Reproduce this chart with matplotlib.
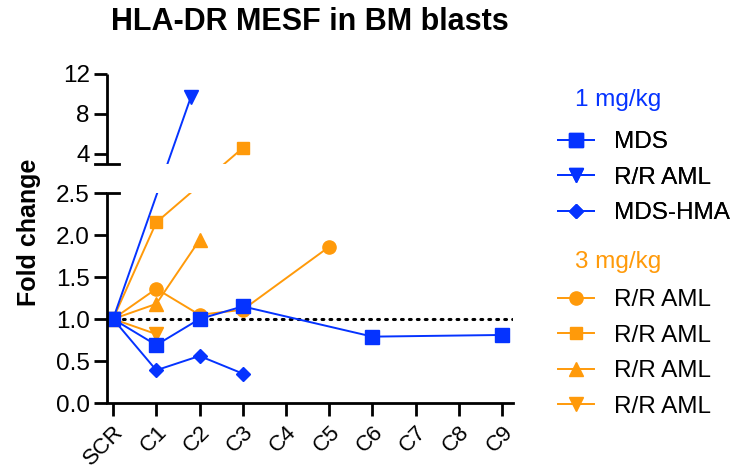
import matplotlib
matplotlib.use("Agg")
import matplotlib.pyplot as plt
import numpy as np

plt.rcParams['font.family'] = ['Liberation Sans', 'DejaVu Sans']

# categories on the x axis
cycles = ["SCR", "C1", "C2", "C3", "C4", "C5", "C6", "C7", "C8", "C9"]

# 1 mg/kg cohort
mds_x = [0, 1, 2, 3, 6, 9]
mds_y = [1.0, 0.69, 1.0, 1.15, 0.79, 0.81]
rr1_x = [0, 1.8]
rr1_y = [1.0, 9.7]
hma_x = [0, 1, 2, 3]
hma_y = [1.0, 0.39, 0.56, 0.35]

# 3 mg/kg cohort
rr_a_x = [0, 1, 2, 3, 5]
rr_a_y = [1.0, 1.36, 1.05, 1.11, 1.86]
rr_b_x = [0, 1, 3]
rr_b_y = [1.0, 2.15, 4.6]
rr_c_x = [0, 1, 2]
rr_c_y = [1.0, 1.18, 1.94]
rr_d_x = [0, 1]
rr_d_y = [1.0, 0.82]

BLUE = "#0533ff"
ORANGE = "#ff9a0a"

# broken y axis: 0-2.5 normal, 3-12 compressed above a gap
B, T = 2.5, 3.0
GAP = 29 / 84
TOPK = 10 / 84


def fwd(v):
    v = np.asarray(v, dtype=float)
    return np.where(v <= B, v,
                    np.where(v <= T, B + (v - B) / (T - B) * GAP,
                             B + GAP + (v - T) * TOPK))


def inv(d):
    d = np.asarray(d, dtype=float)
    return np.where(d <= B, d,
                    np.where(d <= B + GAP, B + (d - B) / GAP * (T - B),
                             T + (d - B - GAP) / TOPK))


fig = plt.figure(figsize=(7.43, 4.69), dpi=100)
ax = fig.add_axes([107 / 743, 66 / 469, 406 / 743, 329 / 469])
ax.set_yscale('function', functions=(fwd, inv))
ax.set_ylim(0, 12)
ax.set_xlim(-0.14, 9.25)

ax.axhline(1.0, color='black', lw=2.2, ls=(0, (0.6, 2.0)), dash_capstyle='round', zorder=1)

lw = 1.4
h_rr_a, = ax.plot(rr_a_x, rr_a_y, color=ORANGE, lw=lw, marker='o', ms=9.5, label='R/R AML', zorder=2)
h_rr_b, = ax.plot(rr_b_x, rr_b_y, color=ORANGE, lw=lw, marker='s', ms=9, label='R/R AML', zorder=2)
h_rr_c, = ax.plot(rr_c_x, rr_c_y, color=ORANGE, lw=lw, marker='^', ms=9.5, label='R/R AML', zorder=2)
h_rr_d, = ax.plot(rr_d_x, rr_d_y, color=ORANGE, lw=lw, marker='v', ms=9.5, label='R/R AML', zorder=2)
h_hma, = ax.plot(hma_x, hma_y, color=BLUE, lw=lw, marker='D', ms=7, label='MDS-HMA', zorder=2)
h_rr1, = ax.plot(rr1_x, rr1_y, color=BLUE, lw=lw, marker='v', ms=10, label='R/R AML', zorder=2)
h_mds, = ax.plot(mds_x, mds_y, color=BLUE, lw=lw, marker='s', ms=10, label='MDS', zorder=2.2)

# blank out the break
ax.axhspan(B, T, color='white', zorder=2.5, lw=0)

for s in ['top', 'right', 'left']:
    ax.spines[s].set_visible(False)
ax.spines['bottom'].set_linewidth(2)

yt = ax.get_yaxis_transform()
ax.plot([0, 0], [0, B], transform=yt, color='black', lw=2, clip_on=False, zorder=5, solid_capstyle='butt')
ax.plot([0, 0], [T, 12], transform=yt, color='black', lw=2, clip_on=False, zorder=5, solid_capstyle='butt')
ax.plot([-0.03, 0.03], [T, T], transform=yt, color='black', lw=2, clip_on=False, zorder=5)
ax.plot([0, 0.03], [B, B], transform=yt, color='black', lw=2, clip_on=False, zorder=5)

yticks = [0, 0.5, 1.0, 1.5, 2.0, 2.5, 4, 8, 12]
ylabels = ["0.0", "0.5", "1.0", "1.5", "2.0", "2.5", "4", "8", "12"]
ax.set_yticks(yticks, ylabels)
ax.minorticks_off()
ax.set_xticks(range(len(cycles)), cycles, rotation=45, ha='right', rotation_mode='anchor')
ax.tick_params(axis='both', length=9.5, width=2, pad=3)
ax.tick_params(axis='y', labelsize=17.5)
ax.tick_params(axis='x', labelsize=16, pad=4)

fig.text(310 / 743, 1 - 30 / 469, "HLA-DR MESF in BM blasts", ha='center', va='baseline',
         fontsize=22, fontweight='bold')
fig.text(29 / 743, 1 - 232 / 469, "Fold change", rotation=90, ha='center', va='center',
         fontsize=18, fontweight='bold')

# group headers
fig.text(575 / 743, 1 - 100 / 469, "1 mg/kg", color=BLUE, ha='left', va='center', fontsize=17.5)
fig.text(575 / 743, 1 - 262 / 469, "3 mg/kg", color=ORANGE, ha='left', va='center', fontsize=17.5)

leg_kw = dict(loc='upper left', frameon=False, fontsize=17.5, handlelength=1.5,
              handletextpad=0.8, labelspacing=0.56, borderpad=0, borderaxespad=0)
leg1 = fig.legend(handles=[h_mds, h_rr1, h_hma], bbox_to_anchor=(558 / 743, 1 - 131 / 469), **leg_kw)
leg2 = fig.legend(handles=[h_rr_a, h_rr_b, h_rr_c, h_rr_d], bbox_to_anchor=(558 / 743, 1 - 289 / 469), **leg_kw)
fig.add_artist(leg1)

fig.savefig("out.png", dpi=100)
